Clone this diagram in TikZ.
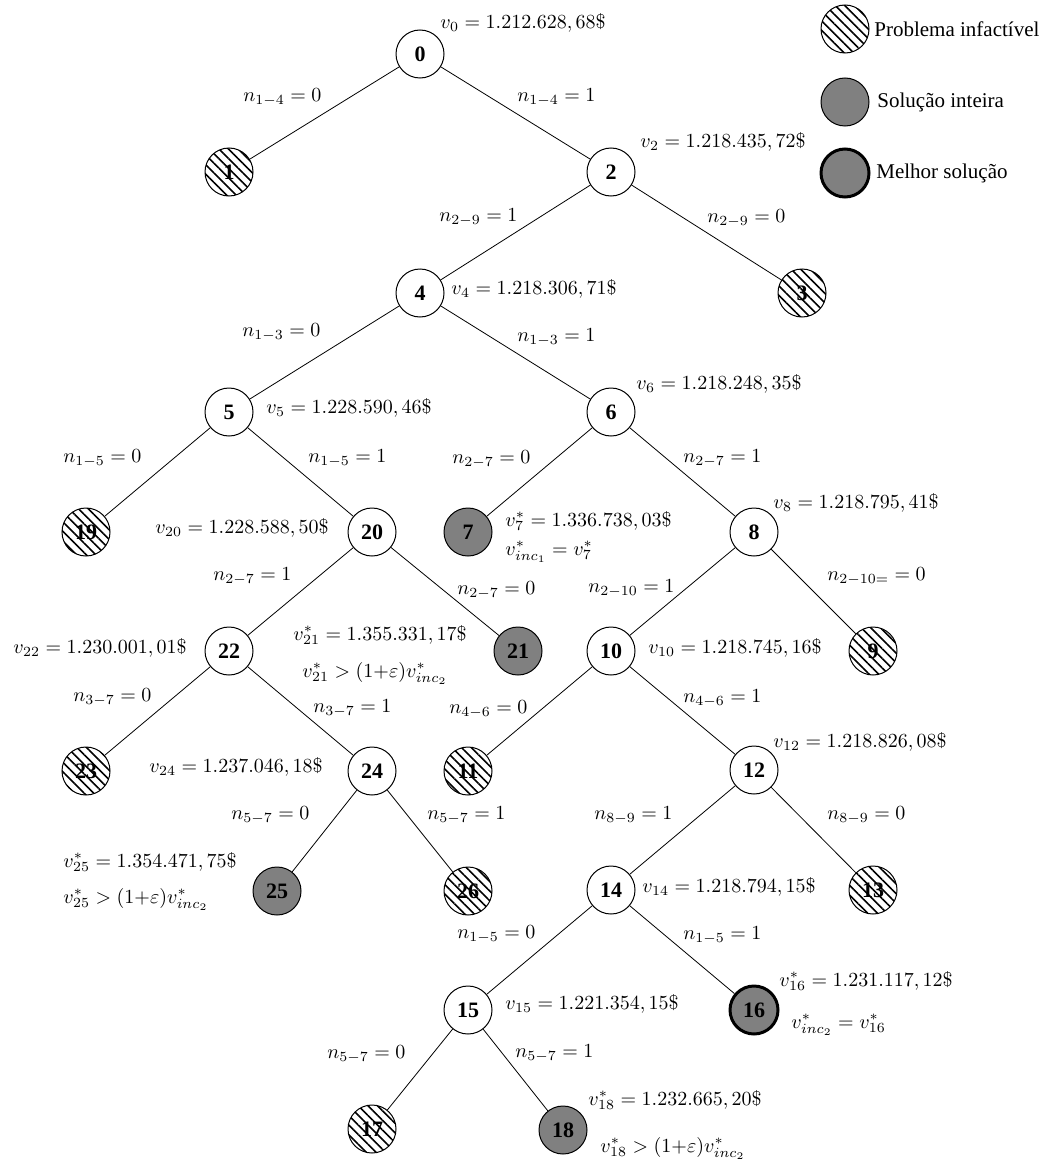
\documentclass[tikz,border=0pt]{standalone}
\usepackage[no-math]{fontspec}
\setmainfont{Liberation Serif}
\usetikzlibrary{patterns.meta}

\begin{document}
\begin{tikzpicture}[x=0.5pt,y=-0.5pt,
  bb/.style={circle,draw,line width=0.5pt,minimum size=24pt,inner sep=0pt,
             font=\fontsize{11}{12}\selectfont\bfseries},
  opennode/.style={bb,fill=white},
  infeas/.style={bb,pattern={Lines[angle=-45,distance=3.4pt,line width=0.8pt]}},
  intsol/.style={bb,fill=gray},
  best/.style={bb,fill=gray,line width=1.5pt},
  lbl/.style={anchor=base west,inner sep=0pt,font=\fontsize{10}{12}\selectfont},
  legtxt/.style={anchor=west,inner sep=0pt,font=\fontsize{10.5}{12}\selectfont},
  link/.style={line width=0.4pt}]

\useasboundingbox (0,0) rectangle (1045,1161);

% ---------- tree nodes ----------
\node[opennode] (n0)  at (420,54)   {0};
\node[infeas]   (n1)  at (229,172)  {1};
\node[opennode] (n2)  at (611,172)  {2};
\node[infeas]   (n3)  at (802,293)  {3};
\node[opennode] (n4)  at (420,293)  {4};
\node[opennode] (n5)  at (229,412)  {5};
\node[opennode] (n6)  at (611,412)  {6};
\node[infeas]   (n19) at (86,532)   {19};
\node[opennode] (n20) at (372,532)  {20};
\node[intsol]   (n7)  at (468,532)  {7};
\node[opennode] (n8)  at (754,532)  {8};
\node[opennode] (n22) at (229,651)  {22};
\node[intsol]   (n21) at (518,651)  {21};
\node[opennode] (n10) at (611,651)  {10};
\node[infeas]   (n9)  at (873,651)  {9};
\node[infeas]   (n23) at (86,771)   {23};
\node[opennode] (n24) at (372,771)  {24};
\node[infeas]   (n11) at (468,771)  {11};
\node[opennode] (n12) at (754,770)  {12};
\node[intsol]   (n25) at (277,891)  {25};
\node[infeas]   (n26) at (468,891)  {26};
\node[opennode] (n14) at (611,890)  {14};
\node[infeas]   (n13) at (873,890)  {13};
\node[opennode] (n15) at (468,1010) {15};
\node[best]     (n16) at (754,1010) {16};
\node[infeas]   (n17) at (372,1129) {17};
\node[intsol]   (n18) at (563,1130) {18};

% ---------- branches ----------
\draw[link] (n0) -- (n1);   \draw[link] (n0) -- (n2);
\draw[link] (n2) -- (n4);   \draw[link] (n2) -- (n3);
\draw[link] (n4) -- (n5);   \draw[link] (n4) -- (n6);
\draw[link] (n5) -- (n19);  \draw[link] (n5) -- (n20);
\draw[link] (n6) -- (n7);   \draw[link] (n6) -- (n8);
\draw[link] (n20) -- (n22); \draw[link] (n20) -- (n21);
\draw[link] (n8) -- (n10);  \draw[link] (n8) -- (n9);
\draw[link] (n22) -- (n23); \draw[link] (n22) -- (n24);
\draw[link] (n10) -- (n11); \draw[link] (n10) -- (n12);
\draw[link] (n24) -- (n25); \draw[link] (n24) -- (n26);
\draw[link] (n12) -- (n14); \draw[link] (n12) -- (n13);
\draw[link] (n14) -- (n15); \draw[link] (n14) -- (n16);
\draw[link] (n15) -- (n17); \draw[link] (n15) -- (n18);

% ---------- branch conditions ----------
\node[lbl] (c01)  at (243,102) {$n_{1-4} = 0$};
\node[lbl] (c02)  at (517,102) {$n_{1-4} = 1$};
\node[lbl] (c24)  at (439,221) {$n_{2-9} = 1$};
\node[lbl] (c23)  at (707,222) {$n_{2-9} = 0$};
\node[lbl] (c45)  at (242,336) {$n_{1-3} = 0$};
\node[lbl] (c46)  at (517,341) {$n_{1-3} = 1$};
\node[lbl] (c519) at (63,462)  {$n_{1-5} = 0$};
\node[lbl] (c520) at (308,462) {$n_{1-5} = 1$};
\node[lbl] (c67)  at (452,463) {$n_{2-7} = 0$};
\node[lbl] (c68)  at (683,462) {$n_{2-7} = 1$};
\node[lbl] (c2022) at (213,580) {$n_{2-7} = 1$};
\node[lbl] (c2021) at (457,594) {$n_{2-7} = 0$};
\node[lbl] (c810) at (588,592) {$n_{2-10} = 1$};
\node[lbl] (c89)  at (827,580) {$n_{2-10=} = 0$};
\node[lbl] (c2223) at (73,701)  {$n_{3-7} = 0$};
\node[lbl] (c2224) at (313,712) {$n_{3-7} = 1$};
\node[lbl] (c1011) at (449,713) {$n_{4-6} = 0$};
\node[lbl] (c1012) at (683,702) {$n_{4-6} = 1$};
\node[lbl] (c2425) at (231,819) {$n_{5-7} = 0$};
\node[lbl] (c2426) at (427,819) {$n_{5-7} = 1$};
\node[lbl] (c1214) at (594,819) {$n_{8-9} = 1$};
\node[lbl] (c1213) at (827,819) {$n_{8-9} = 0$};
\node[lbl] (c1415) at (457,938) {$n_{1-5} = 0$};
\node[lbl] (c1416) at (683,939) {$n_{1-5} = 1$};
\node[lbl] (c1517) at (327,1058) {$n_{5-7} = 0$};
\node[lbl] (c1518) at (515,1057) {$n_{5-7} = 1$};

% ---------- node values ----------
\node[lbl] (v0)  at (440,29)  {$v_0 = 1.212.628, 68\$$};
\node[lbl] (v2)  at (640,148) {$v_2 = 1.218.435, 72\$$};
\node[lbl] (v4)  at (451,294) {$v_4 = 1.218.306, 71\$$};
\node[lbl] (v5)  at (266,413) {$v_5 = 1.228.590, 46\$$};
\node[lbl] (v6)  at (636,389) {$v_6 = 1.218.248, 35\$$};
\node[lbl] (v20) at (155,533) {$v_{20} = 1.228.588, 50\$$};
\node[lbl] (v7)  at (505,526) {$v_7^* = 1.336.738, 03\$$};
\node[lbl] (vi1) at (505,555) {$v_{inc_1}^* = v_7^*$};
\node[lbl] (v8)  at (773,508) {$v_8 = 1.218.795, 41\$$};
\node[lbl] (v22) at (13,653)  {$v_{22} = 1.230.001, 01\$$};
\node[lbl] (v21) at (293,640) {$v_{21}^* = 1.355.331, 17\$$};
\node[lbl] (v21c) at (302,677) {$v_{21}^* > (1{+}\varepsilon)v_{inc_2}^*$};
\node[lbl] (v10) at (648,653) {$v_{10} = 1.218.745, 16\$$};
\node[lbl] (v24) at (149,772) {$v_{24} = 1.237.046, 18\$$};
\node[lbl] (v12) at (773,747) {$v_{12} = 1.218.826, 08\$$};
\node[lbl] (v25) at (63,867)  {$v_{25}^* = 1.354.471, 75\$$};
\node[lbl] (v25c) at (63,903) {$v_{25}^* > (1{+}\varepsilon)v_{inc_2}^*$};
\node[lbl] (v14) at (642,892) {$v_{14} = 1.218.794, 15\$$};
\node[lbl] (v16) at (779,986) {$v_{16}^* = 1.231.117, 12\$$};
\node[lbl] (vi2) at (791,1028) {$v_{inc_2}^* = v_{16}^*$};
\node[lbl] (v15) at (505,1009) {$v_{15} = 1.221.354, 15\$$};
\node[lbl] (v18) at (588,1105) {$v_{18}^* = 1.232.665, 20\$$};
\node[lbl] (v18c) at (600,1152) {$v_{18}^* > (1{+}\varepsilon)v_{inc_2}^*$};

% ---------- legend ----------
\node[infeas] (kinf)  at (845,29)  {};
\node[intsol] (kint)  at (845,102) {};
\node[best]   (kbest) at (845,173) {};
\node[legtxt] (tinf)  at (874,29)  {Problema infactível};
\node[legtxt] (tint)  at (877,102) {Solução inteira};
\node[legtxt] (tbest) at (876,173) {Melhor solução};
\end{tikzpicture}
\end{document}
